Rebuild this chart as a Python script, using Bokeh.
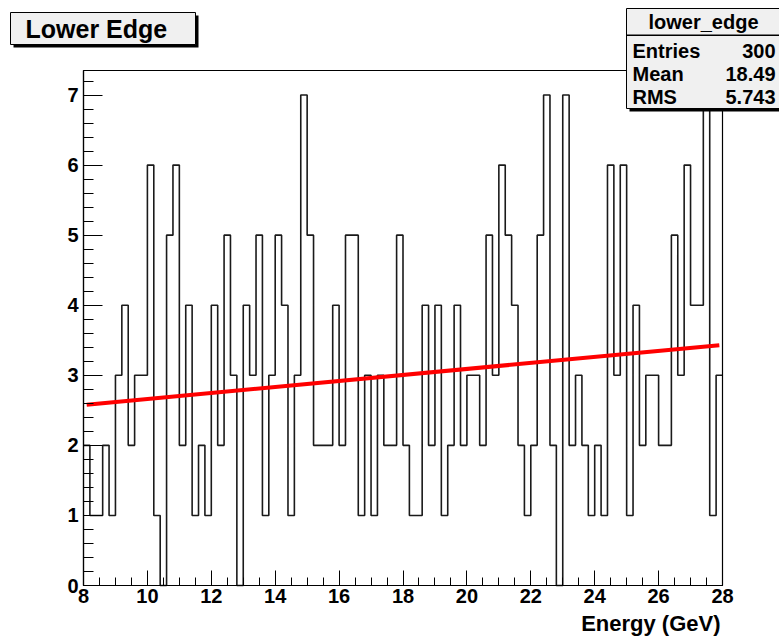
import numpy as np
from bokeh.plotting import figure
from bokeh.models import FixedTicker, Label, BoxAnnotation
from bokeh.embed import file_html
from bokeh.resources import INLINE

# ---------------- data ----------------
counts = [2, 1, 1, 2, 1, 3, 4, 2, 3, 3,
          6, 1, 0, 5, 6, 2, 4, 1, 2, 1,
          4, 2, 5, 3, 0, 4, 3, 5, 1, 3,
          5, 4, 1, 3, 7, 5, 2, 2, 2, 4,
          2, 5, 5, 1, 3, 1, 3, 2, 2, 5,
          2, 1, 1, 4, 2, 4, 1, 2, 4, 2,
          3, 3, 2, 5, 3, 6, 5, 4, 2, 1,
          2, 5, 7, 2, 0, 7, 2, 3, 2, 1,
          2, 1, 6, 3, 6, 1, 4, 2, 3, 3,
          2, 2, 5, 3, 6, 4, 4, 7, 1, 3]
x_min, x_max = 8.0, 28.0
fit_x = [8.1, 27.9]
fit_y = [2.58, 3.43]
x_ticks = [8, 10, 12, 14, 16, 18, 20, 22, 24, 26, 28]
y_ticks = [0, 1, 2, 3, 4, 5, 6, 7]
title_text = "Lower Edge"
x_title = "Energy (GeV)"
stats_name = "lower_edge"
stats_labels = ["Entries", "Mean", "RMS"]
stats_values = ["300", "18.49", "5.743"]

# ---------------- layout ----------------
W, H = 779, 638
FL, FR, FT, FB = 83, 722, 70, 585     # pixel edges of the data frame
FONT = "Liberation Sans"

edges = np.linspace(x_min, x_max, len(counts) + 1)
y_top = max(counts) * 1.05

# the plotting frame covers the whole canvas; ranges are padded so that
# the data region lands on the frame edges used by the reference
kx = (FR - FL) / (x_max - x_min)
ky = (FB - FT) / y_top
xr = (x_min - FL / kx, x_max + (W - FR) / kx)
yr = (0 - (H - FB) / ky, y_top + FT / ky)

p = figure(width=W, height=H, x_range=xr, y_range=yr,
           output_backend="svg", toolbar_location=None,
           min_border_left=0, min_border_right=0,
           min_border_top=0, min_border_bottom=0)
p.title.visible = False
p.grid.visible = False
p.background_fill_color = "white"
p.border_fill_color = "white"
p.outline_line_color = None

# axes drawn at the data frame edges
p.xaxis.fixed_location = 0
p.yaxis.fixed_location = x_min
p.xaxis.bounds = (x_min, x_max)
p.yaxis.bounds = (0, y_top)
p.xaxis.ticker = FixedTicker(ticks=x_ticks,
                             minor_ticks=list(np.arange(x_min, x_max + 0.01, 0.5)))
p.yaxis.ticker = FixedTicker(ticks=y_ticks,
                             minor_ticks=list(np.round(np.arange(0, y_top, 0.2), 3)))
for ax, maj, mnr, stand in ((p.xaxis, 15, 8, 3), (p.yaxis, 19, 10, 5)):
    ax.major_tick_in = maj
    ax.major_tick_out = 0
    ax.minor_tick_in = mnr
    ax.minor_tick_out = 0
    ax.major_tick_line_color = "black"
    ax.minor_tick_line_color = "black"
    ax.axis_line_color = "black"
    ax.axis_line_width = 1.2
    ax.major_label_text_font = FONT
    ax.major_label_text_font_style = "bold"
    ax.major_label_text_font_size = "20px"
    ax.major_label_text_color = "black"
    ax.major_label_standoff = stand

# histogram outline
step_y = list(counts) + [counts[-1]]
p.step(edges, step_y, mode="after", line_color="#1a1a1a", line_width=1.6)

# fit line
p.line(fit_x, fit_y, line_color="#ff0000", line_width=4)

# frame border
p.add_layout(BoxAnnotation(left=x_min, right=x_max, bottom=0, top=y_top,
                           fill_alpha=0.0, line_color="black", line_alpha=1.0,
                           line_width=1.2, line_dash="solid"))


def sx(cx):
    return cx


def sy(cy):
    return H - cy


def box(l, t, r, b, fill, line=None, lw=1):
    ba = BoxAnnotation(left=sx(l), right=sx(r), top=sy(t), bottom=sy(b),
                       left_units="screen", right_units="screen",
                       top_units="screen", bottom_units="screen",
                       fill_color=fill, fill_alpha=1.0,
                       line_color=line, line_alpha=1.0 if line else 0.0,
                       line_width=lw, line_dash="solid")
    p.add_layout(ba)


def text(cx, cy, s, size, align="left"):
    lab = Label(x=sx(cx), y=sy(cy), x_units="screen", y_units="screen", text=s,
                text_font=FONT, text_font_style="bold", text_font_size=size,
                text_color="black", text_align=align, text_baseline="middle")
    p.add_layout(lab)


# title box
box(13, 15, 198, 47, "black")
box(10, 12, 195, 44, "#f0f0f0", "black", 1)
text(25, 28, title_text, "25px")

# stats box
box(629, 11, 782, 111, "black")
box(626, 8, 779, 108, "#f0f0f0", "black", 1)
box(626, 34, 779, 35.5, "black")
text(703, 21, stats_name, "20px", "center")
for i, (lab, val) in enumerate(zip(stats_labels, stats_values)):
    yy = 50 + 23 * i
    text(632, yy, lab, "20px", "left")
    text(775, yy, val, "20px", "right")

# x axis title
text(720, 623, x_title, "22px", "right")

open("out.html", "w").write(file_html(p, INLINE))
